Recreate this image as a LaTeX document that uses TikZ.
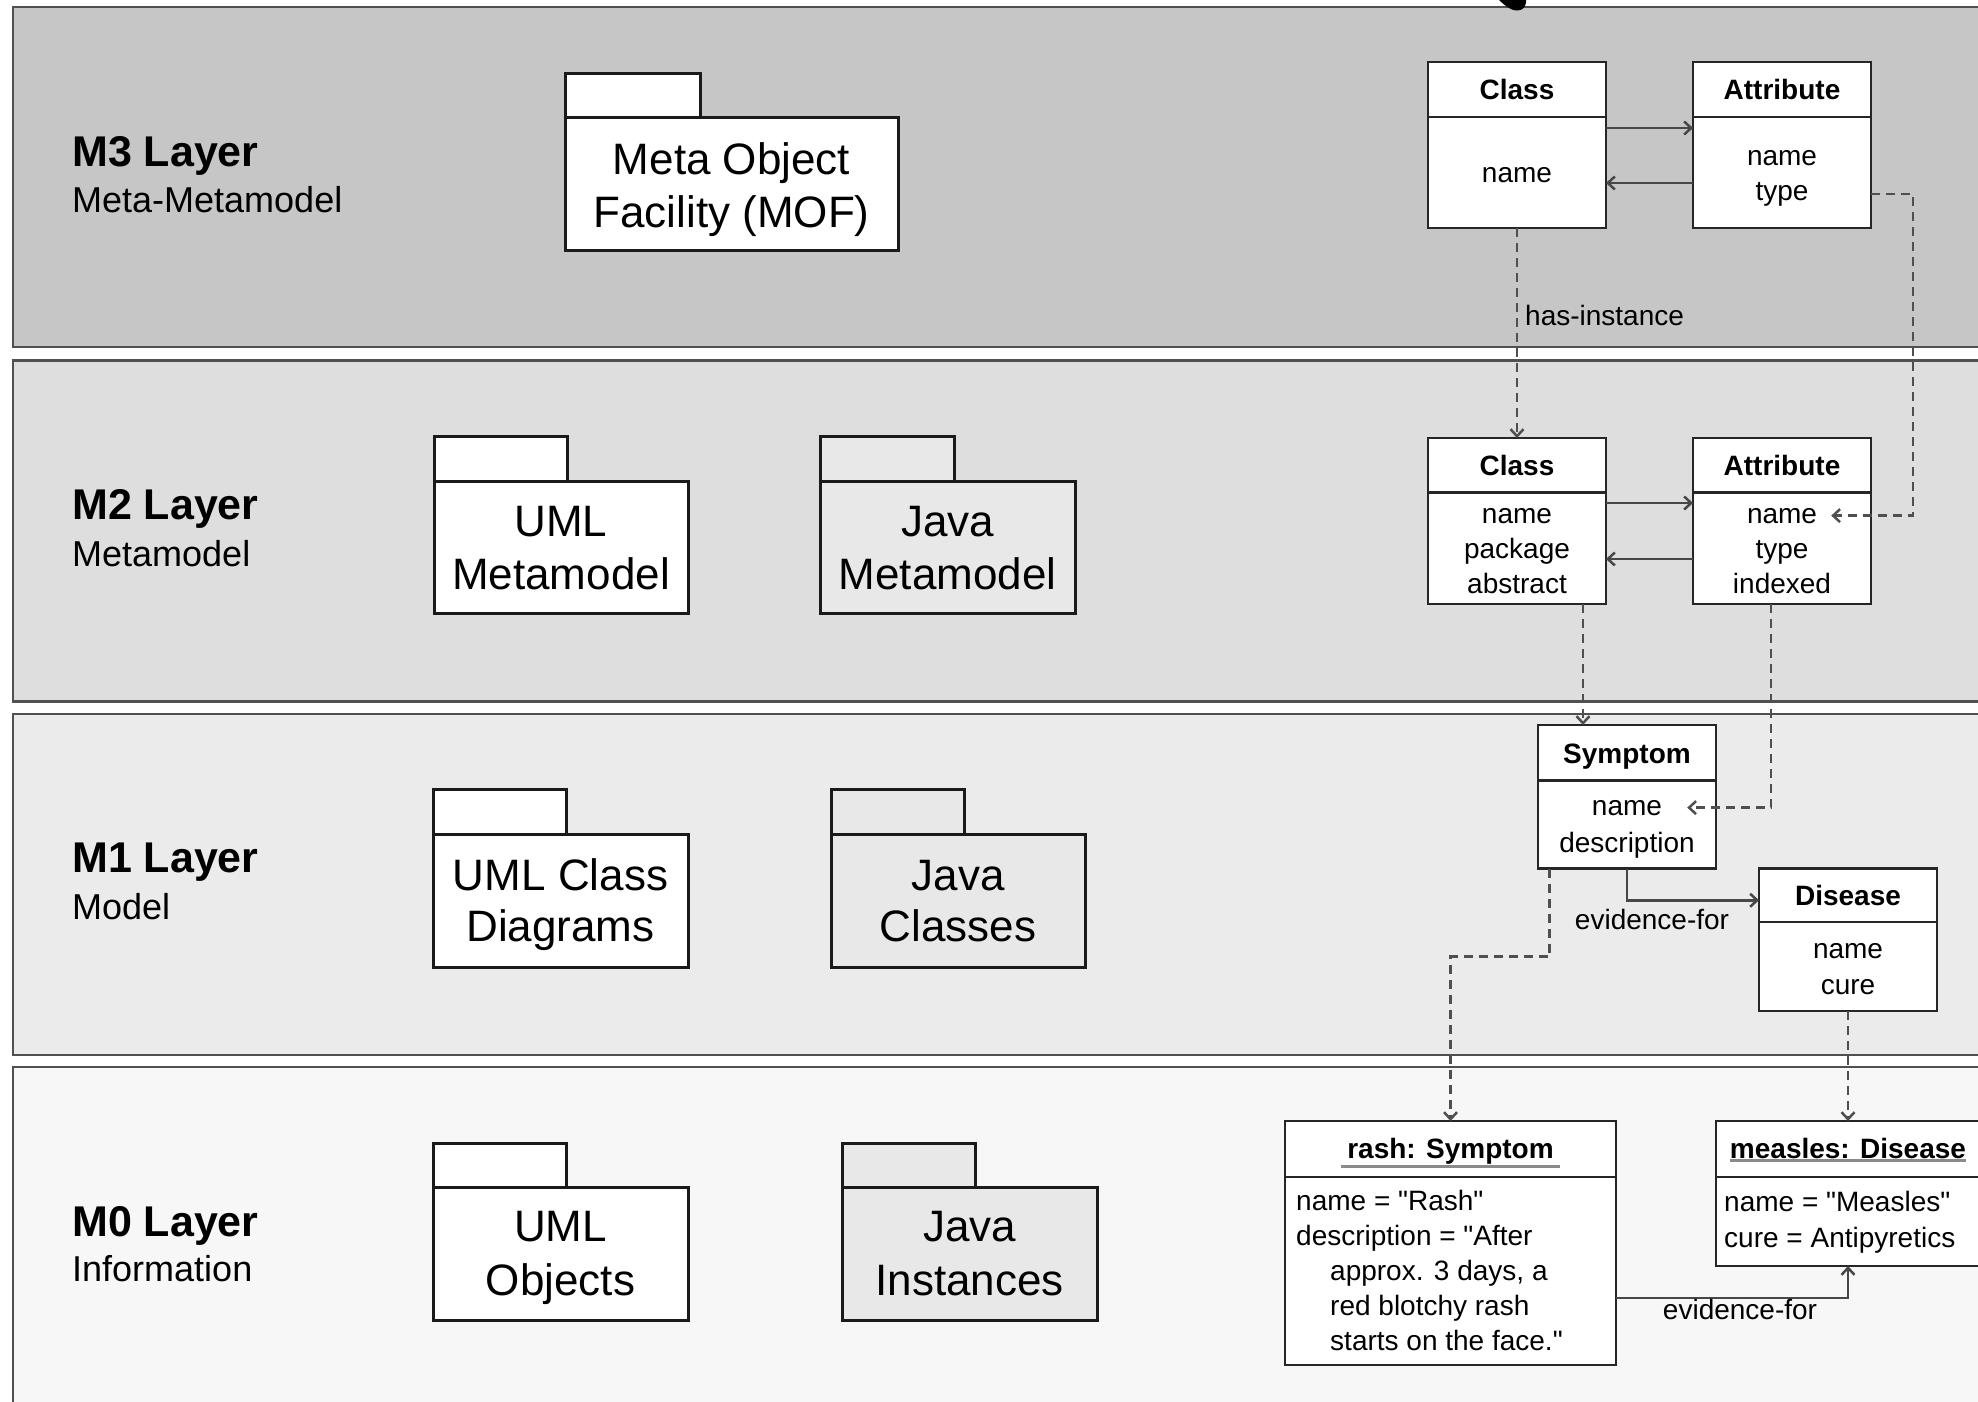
\documentclass[tikz,border=0pt]{standalone}
\usepackage{fontspec}
\setmainfont{Liberation Sans}
\usetikzlibrary{arrows.meta,calc}
\definecolor{bandA}{HTML}{C6C6C6}
\definecolor{bandB}{HTML}{DEDEDE}
\definecolor{bandC}{HTML}{EBEBEB}
\definecolor{bandD}{HTML}{F7F7F7}
\definecolor{bandline}{HTML}{505050}
\definecolor{pkgline}{HTML}{1A1A1A}
\definecolor{javagray}{HTML}{E8E8E8}
\definecolor{boxline}{HTML}{262626}
\definecolor{arrline}{HTML}{474747}
\definecolor{dashline}{HTML}{4F4F4F}
\definecolor{ulgray}{HTML}{8A8A8A}
\newcommand\myfbody{\fontsize{28}{34}\selectfont}
\newcommand\myfhdr{\fontsize{28}{34}\selectfont\bfseries}
\newcommand\myftitle{\fontsize{43}{50}\selectfont\bfseries}
\newcommand\myfsub{\fontsize{36}{42}\selectfont}
\newcommand\myfpkg{\fontsize{44}{53}\selectfont}
\newcommand\mydq{\XeTeXglyph\XeTeXcharglyph34\relax}
\begin{document}
\begin{tikzpicture}[x=1pt,y=-1pt,
  band/.style={draw=bandline, line width=2.5pt, anchor=north west, inner sep=0pt, outer sep=0pt, minimum width=2000pt},
  pkgshape/.style={draw=pkgline, line width=3pt, anchor=north west, inner sep=0pt, outer sep=0pt},
  umlpkg/.style={pkgshape, fill=white},
  javapkg/.style={pkgshape, fill=javagray},
  umlbox/.style={draw=boxline, fill=white, line width=2.5pt, anchor=north west, inner sep=0pt, outer sep=0pt},
  txt/.style={inner sep=0pt, anchor=base, font=\myfbody},
  ltxt/.style={inner sep=0pt, anchor=base west, font=\myfbody},
  hdrtxt/.style={inner sep=0pt, anchor=base, font=\myfhdr},
  pkgtxt/.style={inner sep=0pt, anchor=base, font=\myfpkg},
  titletxt/.style={inner sep=0pt, anchor=base west, font=\myftitle},
  subtxt/.style={inner sep=0pt, anchor=base west, font=\myfsub},
  solidarr/.style={draw=arrline, line width=2.5pt, -{Straight Barb[length=7pt,width=13pt]}},
  dasharr/.style={draw=dashline, line width=2.5pt, dash pattern=on 9pt off 6pt, -{Straight Barb[length=7pt,width=13pt]}},
  uline/.style={draw=ulgray, line width=3pt}
]
\useasboundingbox (0,0) rectangle (1978,1401);
\clip (0,0) rectangle (1978,1401);
\fill[white] (0,0) rectangle (1978,1401);

% ---------- layer bands ----------
\node[band, fill=bandA, minimum height=340pt] (m3) at (13,7) {};
\node[band, fill=bandB, minimum height=341pt] (m2) at (13,360.5) {};
\node[band, fill=bandC, minimum height=341pt] (m1) at (13,714) {};
\node[band, fill=bandD, minimum height=380pt] (m0) at (13,1067) {};

% top artefact
\fill[black] (1497,-2) .. controls (1504,5) and (1511,11) .. (1518,10.5) .. controls (1524,10) and (1527,5) .. (1526,-2) -- cycle;

% ---------- layer titles ----------
\node[titletxt] (l3) at (72,166) {M3 Layer};
\node[subtxt] (s3) at (72,212) {Meta-Metamodel};
\node[titletxt] (l2) at (72,519) {M2 Layer};
\node[subtxt] (s2) at (72,566) {Metamodel};
\node[titletxt] (l1) at (72,872) {M1 Layer};
\node[subtxt] (s1) at (72,919) {Model};
\node[titletxt] (l0) at (72,1236) {M0 Layer};
\node[subtxt] (s0) at (72,1281) {Information};

% ---------- packages ----------
\node[umlpkg, minimum width=135pt, minimum height=44pt] (moftab) at (565,73) {};
\node[umlpkg, minimum width=333pt, minimum height=133pt] (mof) at (565,117) {};
\node[pkgtxt] (mofa) at (731.5,174) {Meta Object};
\node[pkgtxt] (mofb) at (731.5,227) {Facility (MOF)};

\node[umlpkg, minimum width=133pt, minimum height=45pt] (umlmtab) at (434,436) {};
\node[umlpkg, minimum width=254pt, minimum height=132pt] (umlm) at (434,481) {};
\node[pkgtxt] (umlma) at (561,536) {UML};
\node[pkgtxt] (umlmb) at (561,589) {Metamodel};

\node[javapkg, minimum width=134pt, minimum height=45pt] (javamtab) at (820,436) {};
\node[javapkg, minimum width=255pt, minimum height=132pt] (javam) at (820,481) {};
\node[pkgtxt] (javama) at (947.5,536) {Java};
\node[pkgtxt] (javamb) at (947.5,589) {Metamodel};

\node[umlpkg, minimum width=133pt, minimum height=45pt] (umlctab) at (433,789) {};
\node[umlpkg, minimum width=255pt, minimum height=133pt] (umlc) at (433,834) {};
\node[pkgtxt] (umlca) at (560.5,890) {UML Class};
\node[pkgtxt] (umlcb) at (560.5,941) {Diagrams};

\node[javapkg, minimum width=133pt, minimum height=45pt] (javactab) at (831,789) {};
\node[javapkg, minimum width=254pt, minimum height=133pt] (javac) at (831,834) {};
\node[pkgtxt] (javaca) at (958,890) {Java};
\node[pkgtxt] (javacb) at (958,941) {Classes};

\node[umlpkg, minimum width=133pt, minimum height=44pt] (umlotab) at (433,1143) {};
\node[umlpkg, minimum width=255pt, minimum height=133pt] (umlo) at (433,1187) {};
\node[pkgtxt] (umloa) at (560.5,1241) {UML};
\node[pkgtxt] (umlob) at (560.5,1295) {Objects};

\node[javapkg, minimum width=133pt, minimum height=44pt] (javaitab) at (842,1143) {};
\node[javapkg, minimum width=255pt, minimum height=133pt] (javai) at (842,1187) {};
\node[pkgtxt] (javaia) at (969.5,1241) {Java};
\node[pkgtxt] (javaib) at (969.5,1295) {Instances};

% ---------- M3 classes ----------
\node[umlbox, minimum width=178pt, minimum height=111pt] (c3b) at (1428,117) {};
\node[umlbox, minimum width=178pt, minimum height=55pt] (c3h) at (1428,62) {};
\node[hdrtxt] (c3t) at (1517,99.5) {Class};
\node[txt] (c3n) at (1517,182) {name};

\node[umlbox, minimum width=178pt, minimum height=111pt] (a3b) at (1693,117) {};
\node[umlbox, minimum width=178pt, minimum height=55pt] (a3h) at (1693,62) {};
\node[hdrtxt] (a3t) at (1782,99.5) {Attribute};
\node[txt] (a3n) at (1782,165) {name};
\node[txt] (a3y) at (1782,200) {type};

% ---------- M2 classes ----------
\node[umlbox, minimum width=178pt, minimum height=111.5pt] (c2b) at (1428,492.5) {};
\node[umlbox, minimum width=178pt, minimum height=54.5pt] (c2h) at (1428,438) {};
\node[hdrtxt] (c2t) at (1517,475) {Class};
\node[txt] (c2n) at (1517,523) {name};
\node[txt] (c2p) at (1517,558) {package};
\node[txt] (c2a) at (1517,593) {abstract};

\node[umlbox, minimum width=178pt, minimum height=111.5pt] (a2b) at (1693,492.5) {};
\node[umlbox, minimum width=178pt, minimum height=54.5pt] (a2h) at (1693,438) {};
\node[hdrtxt] (a2t) at (1782,475) {Attribute};
\node[txt] (a2n) at (1782,523) {name};
\node[txt] (a2y) at (1782,558) {type};
\node[txt] (a2i) at (1782,593) {indexed};

% ---------- M1 classes ----------
\node[umlbox, minimum width=178pt, minimum height=88pt] (symb) at (1538,780.5) {};
\node[umlbox, minimum width=178pt, minimum height=55.5pt] (symh) at (1538,725) {};
\node[hdrtxt] (symt) at (1627,763) {Symptom};
\node[txt] (symn) at (1627,815) {name};
\node[txt] (symd) at (1627,852) {description};

\node[umlbox, minimum width=178pt, minimum height=89pt] (disb) at (1759,922) {};
\node[umlbox, minimum width=178pt, minimum height=53.5pt] (dish) at (1759,868.5) {};
\node[hdrtxt] (dist) at (1848,905) {Disease};
\node[txt] (disn) at (1848,958) {name};
\node[txt] (disc) at (1848,994) {cure};

% ---------- M0 objects ----------
\node[umlbox, minimum width=331pt, minimum height=188pt] (rashb) at (1285,1177) {};
\node[umlbox, minimum width=331pt, minimum height=56pt] (rashh) at (1285,1121) {};
\node[hdrtxt] (rasht) at (1450.5,1158) {rash: Symptom};
\draw[uline] ([yshift=-2pt,xshift=-6pt]rasht.south west) -- ([yshift=-2pt,xshift=6pt]rasht.south east);
\node[ltxt] (rash1) at (1296,1210) {name = \mydq Rash\mydq};
\node[ltxt] (rash2) at (1296,1245) {description = \mydq After};
\node[ltxt] (rash3) at (1330,1280) {approx. 3 days, a};
\node[ltxt] (rash4) at (1330,1315) {red blotchy rash};
\node[ltxt] (rash5) at (1330,1350) {starts on the face.\mydq};

\node[umlbox, minimum width=264pt, minimum height=89pt] (measb) at (1716,1177) {};
\node[umlbox, minimum width=264pt, minimum height=56pt] (meash) at (1716,1121) {};
\node[hdrtxt] (meast) at (1848,1158) {measles: Disease};
\draw[uline] ([yshift=-2pt]meast.south west) -- ([yshift=-2pt]meast.south east);
\node[ltxt] (meas1) at (1724,1211) {name = \mydq Measles\mydq};
\node[ltxt] (meas2) at (1724,1247) {cure = Antipyretics};

% ---------- connectors ----------
\draw[solidarr] ([yshift=-11pt]c3b.north east) -- ([yshift=-11pt]a3b.north west);
\draw[solidarr] ([yshift=-66pt]a3b.north west) -- ([yshift=-66pt]c3b.north east);
\draw[dasharr] (c3b.south) -- (c2h.north);
\node[ltxt] (hasinst) at (1525,325) {has-instance};
\draw[dasharr] ([yshift=-77pt]a3b.north east) -- ++(42,0) |- ([xshift=14pt]a2n.east);

\draw[solidarr] ([yshift=-10.5pt]c2b.north east) -- ([yshift=-10.5pt]a2b.north west);
\draw[solidarr] ([yshift=-66.5pt]a2b.north west) -- ([yshift=-66.5pt]c2b.north east);
\draw[dasharr] ([xshift=-23pt]c2b.south east) -- ([xshift=-23pt]c2b.south east |- symh.north);
\draw[dasharr] ([xshift=-11pt]a2b.south) |- ([xshift=25pt]symn.east);

\draw[solidarr] (symb.south) |- ([yshift=-5pt]dish.west);
\node[txt] (evid1) at (1652,929) {evidence-for};
\draw[dasharr] ([xshift=-77.5pt]symb.south) -- ++(0,88) -| (rashh.north);
\draw[dasharr] (disb.south) -- (meash.north);

\draw[solidarr] ([yshift=-121pt]rashb.north east) -| (measb.south);
\node[txt] (evid2) at (1740,1319) {evidence-for};
\end{tikzpicture}
\end{document}
